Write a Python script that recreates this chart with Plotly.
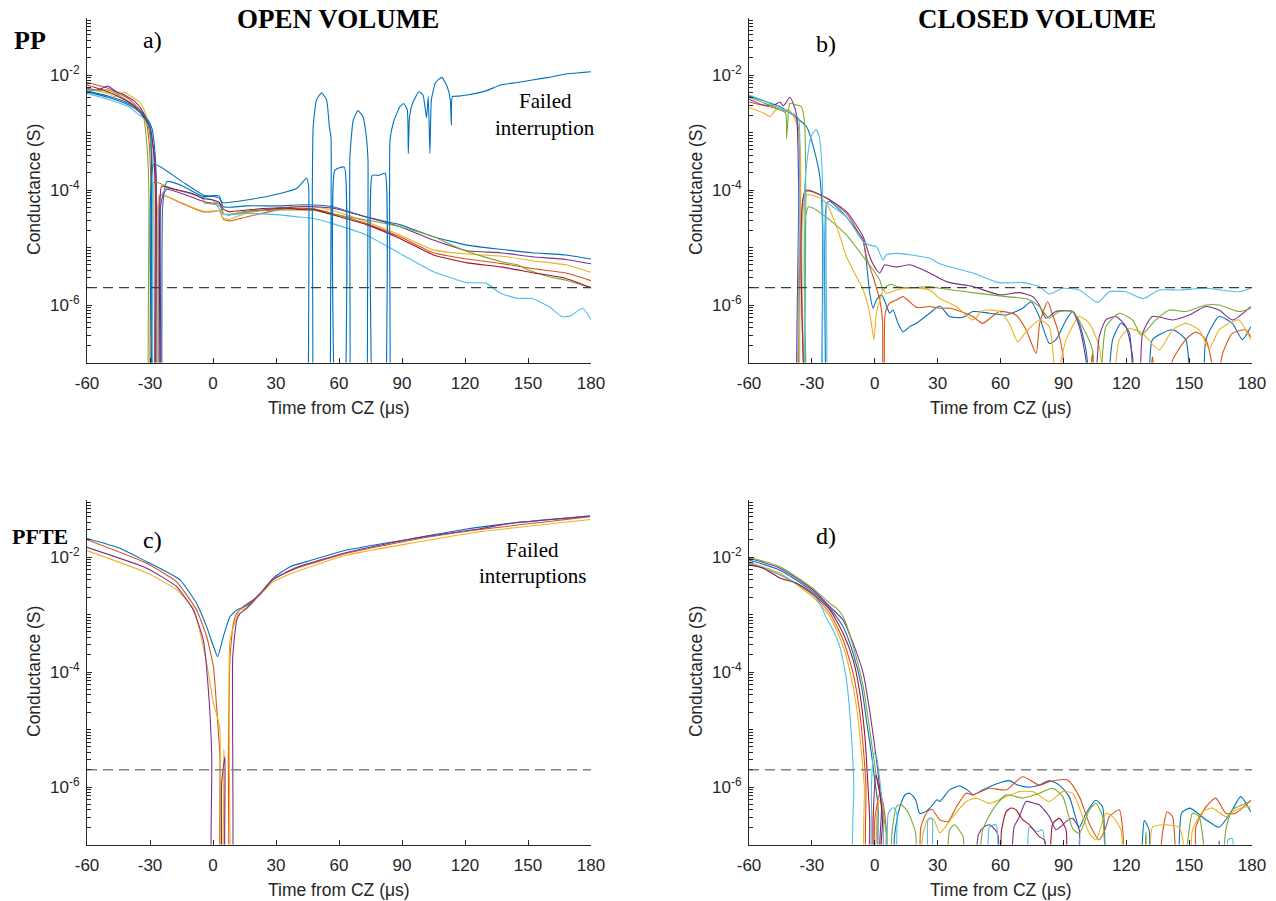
import plotly.graph_objects as go

# ---------------- colours (MATLAB default order) ----------------
BLUE, ORANGE, YELLOW, PURPLE = "#0072BD", "#D95319", "#EDB120", "#7E2F8E"
GREEN, LIGHTBLUE, DARKRED = "#77AC30", "#4DBEEE", "#A2142F"

# ---------------- axis ticks / reference level ----------------
X_TICKS = [-60, -30, 0, 30, 60, 90, 120, 150, 180]
Y_LABELED = [1e-6, 1e-4, 1e-2]
Y_LABEL_TEXT = ["10<sup>-6</sup>", "10<sup>-4</sup>", "10<sup>-2</sup>"]
DASH_LEVEL = 2e-6

# ---------------- panel a) PP open volume ----------------
A_BLUE = [(-60,5.3e-3),(-50,4.3e-3),(-40,3.2e-3),(-35,2.5e-3),(-32,1.9e-3),(-30,1.44e-3),(-29,1.15e-3),(-28,6.5e-4),(-27,1.5e-4),(-26.3,1e-9),(-25.3,1e-9),(-24,5e-5),(-22,1.4e-4),(-15,1.2e-4),(-5,7.7e-5),(-2,7.7e-5),(0,7.7e-5),(3,7.2e-5),(5,5.1e-5),(8,5.0e-5),(16,5.3e-5),(32,5.3e-5),(41,5.5e-5),(48,5.5e-5),(57,5.1e-5),(73,3.4e-5),(89,2.5e-5),(105,1.54e-5),(121,1.1e-5),(137,9.3e-6),(152,8.1e-6),(168,7.4e-6),(180,6.3e-6)]
A_ORANGE = [(-60,7.4e-3),(-50,5.9e-3),(-45,4.8e-3),(-40,3.8e-3),(-35,2.5e-3),(-32,1.65e-3),(-30.5,7.4e-4),(-29.5,1e-4),(-29,1e-9),(-27,1e-9),(-26,1e-5),(-25,8.2e-5),(-15,5.9e-5),(-5,4.2e-5),(0,4.2e-5),(3,4.4e-5),(5,3.1e-5),(8,2.9e-5),(16,3.4e-5),(32,4.6e-5),(41,4.8e-5),(48,4.7e-5),(57,3.9e-5),(73,2.6e-5),(89,1.54e-5),(105,8.1e-6),(121,6.3e-6),(137,5.3e-6),(152,4.3e-6),(168,3.6e-6),(180,2.65e-6)]
A_YELLOW = [(-60,5.6e-3),(-55,5.3e-3),(-50,4.8e-3),(-47,4.2e-3),(-42,5.0e-3),(-40,4.5e-3),(-35,3.4e-3),(-33,2.6e-3),(-31.5,1.8e-3),(-30,8e-4),(-29,1e-4),(-28.5,1e-9),(-27.5,1e-9),(-26.5,1e-5),(-25.5,8.2e-5),(-15,6.0e-5),(-5,4.3e-5),(0,4.3e-5),(3,4.4e-5),(5,3.2e-5),(8,3.1e-5),(16,4.0e-5),(32,4.8e-5),(41,5.3e-5),(48,5.1e-5),(57,4.4e-5),(73,2.8e-5),(89,1.65e-5),(105,9.1e-6),(121,7.7e-6),(137,7.1e-6),(152,5.9e-6),(168,5.0e-6),(180,3.7e-6)]
A_PURPLE = [(-60,5.9e-3),(-55,5.5e-3),(-50,6.4e-3),(-46,5.1e-3),(-42,4.5e-3),(-37,3.4e-3),(-34,2.5e-3),(-31,1.44e-3),(-28,4.3e-4),(-27,1e-4),(-26.5,1e-9),(-25.5,1e-9),(-25,5e-5),(-24,7.7e-5),(-22,1.03e-4),(-10,7.5e-5),(-4.6,6.3e-5),(0,5.9e-5),(3,5.9e-5),(5,3.8e-5),(8,3.7e-5),(16,4.2e-5),(32,4.8e-5),(41,5.1e-5),(48,5.1e-5),(57,4.8e-5),(73,3.4e-5),(89,2.3e-5),(105,1.35e-5),(121,8.8e-6),(137,8.1e-6),(152,6.9e-6),(168,6.2e-6),(180,5.2e-6)]
A_GREEN = [(-60,5.5e-3),(-55,5.4e-3),(-50,5.5e-3),(-45,4.5e-3),(-40,3.4e-3),(-36,2.6e-3),(-33,1.8e-3),(-32,1.0e-3),(-31,3.3e-4),(-30.5,7.7e-5),(-30.3,1e-9),(-29.5,1e-9),(-29,1e-5),(-28.6,1.34e-4),(-26,1.34e-4),(-20,1.07e-4),(-10,8.7e-5),(-5,7.2e-5),(-4,5.9e-5),(0,5.7e-5),(4,5.1e-5),(5,3.8e-5),(8,3.8e-5),(16,4.2e-5),(32,4.5e-5),(41,4.5e-5),(48,4.4e-5),(57,3.8e-5),(73,3.0e-5),(89,2.3e-5),(105,1.54e-5),(121,8.5e-6),(137,5.7e-6),(145,5.0e-6),(150,4.1e-6),(160,3.1e-6),(168,2.7e-6),(180,2.0e-6)]
A_LIGHTBLUE = [(-60,4.8e-3),(-50,3.8e-3),(-40,2.8e-3),(-35,2.0e-3),(-32,1.7e-3),(-31,1.54e-3),(-29.5,8.5e-4),(-28.5,1e-4),(-28,1e-9),(-27,1e-9),(-26,3e-5),(-25,7.7e-5),(-22,1.07e-4),(-5,7.5e-5),(0,6.7e-5),(5,3.8e-5),(16,3.9e-5),(32,3.7e-5),(41,3.4e-5),(48,3.2e-5),(57,2.6e-5),(73,1.65e-5),(89,7.9e-6),(105,3.8e-6),(121,2.45e-6),(130,2.4e-6),(137,1.6e-6),(145,1.3e-6),(152,1.3e-6),(160,9.4e-7),(166,6.3e-7),(170,6.4e-7),(176,8.8e-7),(180,5.6e-7)]
A_DARKRED = [(-60,6.7e-3),(-50,5.1e-3),(-45,4.2e-3),(-40,3.4e-3),(-35,2.3e-3),(-32,1.65e-3),(-30,1.26e-3),(-28.5,5.7e-4),(-27.5,1e-4),(-27,1e-9),(-26,1e-9),(-25.5,1e-5),(-24.5,1.17e-4),(-20,1.07e-4),(-10,8.7e-5),(-5,7.2e-5),(0,6.7e-5),(3,6.1e-5),(5,4.6e-5),(8,4.2e-5),(16,4.5e-5),(32,4.9e-5),(41,4.6e-5),(48,4.6e-5),(57,3.7e-5),(73,2.5e-5),(89,1.44e-5),(105,7.4e-6),(121,5.4e-6),(137,4.6e-6),(152,3.65e-6),(168,2.9e-6),(180,2.0e-6)]
A_FAILED = [(-60,5.1e-3),(-50,4.1e-3),(-40,3.0e-3),(-35,2.3e-3),(-32,1.8e-3),(-30,1.26e-3),(-29.3,4e-4),(-28.9,1e-9),(-28.5,1e-9),(-28.1,2.8e-4),(-16,1.5e-4),(-4.6,8.1e-5),(-2,7.9e-5),(3,7.9e-5),(4,6.3e-5),(5,6.0e-5),(16,6.7e-5),(32,8.7e-5),(40,1.07e-4),(44.5,1.6e-4),(45.5,1.2e-4),(46,1e-9),(46.8,1e-9),(47.3,1e-4),(47.7,1.26e-3),(49.3,3.7e-3),(51.7,4.9e-3),(54.1,3.7e-3),(55.4,1.26e-3),(56.2,8e-4),(56.6,1e-9),(57.5,1e-9),(58,2.2e-4),(62.5,2.5e-4),(63.5,1e-9),(64.5,1e-9),(65.2,3.8e-4),(66.8,1.65e-3),(69,2.4e-3),(71.4,1.9e-3),(73,8.5e-4),(73.8,3.3e-4),(74.3,1e-9),(75.3,1e-9),(75.8,1.8e-4),(79,1.8e-4),(82,1.95e-4),(82.8,1e-9),(83.7,1e-9),(84.3,7.4e-4),(86,1.54e-3),(89,2.8e-3),(90.7,3.2e-3),(92.5,2.5e-3),(93,4.3e-4),(93.6,1.9e-3),(95,3.2e-3),(98,5.1e-3),(100,4.5e-3),(101.7,1.8e-3),(102.5,4.2e-3),(103.3,4.3e-4),(104,3.7e-3),(106,7.4e-3),(109,9.1e-3),(111.5,6.3e-3),(113,3.7e-3),(113.5,1.35e-3),(114,4.2e-3),(117,4.3e-3),(121,4.5e-3),(130,5.3e-3),(137,6.7e-3),(145,7.4e-3),(152,8.2e-3),(160,9.1e-3),(168,1.04e-2),(175,1.1e-2),(180,1.14e-2)]

# ---------------- panel b) PP closed volume ----------------
B_BLUE = [(-60,4.3e-3),(-45.2,2.8e-3),(-37.3,1.8e-3),(-32.5,1.26e-3),(-29.3,5.7e-4),(-26.2,1.7e-4),(-24.9,2.3e-5),(-24.5,1e-9),(-23.8,1e-9),(-23,5.9e-5),(-21.4,6.3e-5),(-13.5,3.4e-5),(-8.7,2.0e-5),(-5.5,1.35e-5),(-2.4,1.6e-6),(-0.8,8.8e-7),(0.8,1.22e-6),(3.2,1.5e-6),(5.5,1.0e-6),(7.1,7.2e-7),(8.7,8.2e-7),(11.1,4.8e-7),(13.5,3.4e-7),(16.7,4.2e-7),(19.9,4.8e-7),(26.2,7.2e-7),(31,9.6e-7),(35.7,6.3e-7),(42.1,6.1e-7),(46.8,7.7e-7),(54.7,7.2e-7),(62.7,6.7e-7),(70.6,8.8e-7),(74.6,1.14e-6),(78.5,6.3e-7),(83.3,2.15e-7),(86.5,2.5e-7),(91.3,5.5e-7),(94.4,7.7e-7),(97.6,4.8e-7),(100.8,1.65e-7),(104,3e-8),(110,3e-8),(113.5,2.5e-7),(117.5,4.8e-7),(121.4,3.4e-7),(124.6,3e-8),(130,3e-8),(132.5,2.5e-7),(142.1,3.7e-7),(148.4,2.5e-7),(151.6,3e-8),(156,3e-8),(158,2.5e-7),(164.3,6.3e-7),(170.6,4.8e-7),(175.4,2.5e-7),(179.4,4.2e-7)]
B_ORANGE = [(-60,3.4e-3),(-45.2,2.5e-3),(-38,2.0e-3),(-36.5,1.26e-3),(-35.5,1e-4),(-35.2,1e-9),(-33.5,1e-9),(-33,9.4e-5),(-21.4,6.7e-5),(-13.5,3.9e-5),(-5.5,1.26e-5),(-4,6.9e-6),(-0.8,3.1e-6),(2.4,1.22e-6),(3.7,5.5e-7),(4.0,1e-9),(4.5,1e-9),(5.0,7.2e-7),(7.1,1.07e-6),(10.3,1.22e-6),(13.5,1.4e-6),(19.9,9.1e-7),(26.2,9.4e-7),(31,8.8e-7),(35.7,8.8e-7),(39,8.2e-7),(46.8,6.3e-7),(51.5,4.8e-7),(59.5,7.7e-7),(67.4,6.7e-7),(72.2,3.7e-7),(77,1.44e-7),(78.7,4.8e-7),(82.5,1.14e-6),(84.9,6.7e-7),(87.3,3.7e-7),(89.7,1.44e-7),(91.5,3e-8),(101,3e-8),(103.9,1.44e-7),(106,3e-8),(130,3e-8),(132.5,1.26e-7),(135,3e-8),(139,3e-8),(142.1,1.1e-7),(148.4,2.5e-7),(153.2,3.4e-7),(158,2.5e-7),(161,9e-8),(162.7,3e-8),(166,1.44e-7),(170.6,3.2e-7),(177,3.7e-7),(179.4,2.8e-7)]
B_YELLOW = [(-60,2.7e-3),(-53.2,2.2e-3),(-50,1.9e-3),(-47,2.5e-3),(-40.5,2.4e-3),(-37.3,1.44e-3),(-35.5,5e-4),(-34.8,1e-9),(-33.5,1e-9),(-32.8,8.2e-5),(-24.6,6.7e-5),(-21.4,4.5e-5),(-16.7,1.6e-5),(-13.5,6.9e-6),(-8.7,3.1e-6),(-5.5,1.82e-6),(-2.4,7.2e-7),(-0.4,2.5e-7),(0.8,7.2e-7),(2.4,1.22e-6),(4.0,1.82e-6),(5.5,1.6e-6),(10.3,1.82e-6),(18.3,2.0e-6),(26.2,1.82e-6),(31,1.3e-6),(38.9,9.4e-7),(46.8,5.5e-7),(51.5,8.0e-7),(59.5,7.7e-7),(64.2,4.8e-7),(68.2,2.3e-7),(72.2,3.4e-7),(78.5,5.5e-7),(83.3,4.2e-7),(86.5,5e-8),(91.3,2.5e-7),(97.6,6.3e-7),(102.4,4.8e-7),(107.1,1.9e-7),(110.3,3e-8),(113,3e-8),(116.7,2.5e-7),(121.4,3.9e-7),(127.8,3.2e-7),(135.7,1.65e-7),(142.1,3.7e-7),(148.4,4.8e-7),(154.8,3.7e-7),(159.5,1.76e-7),(164.3,3.7e-7),(170.6,5.1e-7),(173.8,5.5e-7),(179.4,2.5e-7)]
B_PURPLE = [(-60,3.8e-3),(-53.2,3.0e-3),(-48,3.0e-3),(-45.2,3.4e-3),(-43.6,2.9e-3),(-40.5,4.1e-3),(-38.9,3.2e-3),(-37.3,2.0e-3),(-36.3,1e-4),(-36,1e-9),(-33.8,1e-9),(-33,9.8e-5),(-21.4,6.7e-5),(-13.5,4.2e-5),(-5.5,1.54e-5),(-2.4,6.9e-6),(0.8,4.1e-6),(2.4,3.6e-6),(4.8,5.0e-6),(7.1,4.8e-6),(10.3,4.6e-6),(16.7,5.0e-6),(19.9,4.6e-6),(26.2,3.6e-6),(31,2.9e-6),(35.7,2.45e-6),(46.8,2.1e-6),(59.5,1.5e-6),(69,1.64e-6),(75.4,1.4e-6),(78.5,1.0e-6),(81.7,5.9e-7),(86.5,7.7e-7),(94.4,7.7e-7),(97.6,4.2e-7),(100.8,1.1e-7),(102.5,3e-8),(104.5,3e-8),(107.1,2.8e-7),(110.3,5.5e-7),(115.1,6.3e-7),(119.8,4.2e-7),(123,1.3e-7),(124.6,3e-8),(126,3e-8),(127.8,3.2e-7),(132.5,6.3e-7),(142.1,5.5e-7),(150,6.7e-7),(158,9.4e-7),(164.3,8.2e-7),(170.6,5.5e-7),(179.4,9.4e-7)]
B_GREEN = [(-60,4.1e-3),(-53.2,3.3e-3),(-45.2,2.5e-3),(-42.5,2.15e-3),(-42.1,7.9e-4),(-41.5,1.5e-3),(-40.5,3.2e-3),(-37.3,3.0e-3),(-35,2.8e-3),(-33.5,1.5e-3),(-32.9,1e-4),(-32.6,1e-9),(-32.0,1e-9),(-31.6,5.1e-5),(-21.4,3.0e-5),(-13.5,1.65e-5),(-5.5,6.9e-6),(-0.8,4.1e-6),(2.4,2.7e-6),(4.0,1.82e-6),(5.5,2.1e-6),(8.0,2.3e-6),(10.3,2.1e-6),(18.3,2.0e-6),(26.2,2.1e-6),(31,1.95e-6),(46.8,1.64e-6),(62.7,1.4e-6),(73,1.26e-6),(78.5,9.4e-7),(83.3,5.9e-7),(88.1,7.7e-7),(94.4,7.7e-7),(100.8,3.2e-7),(103.9,1.65e-7),(105.5,3e-8),(107,3e-8),(110.3,4.2e-7),(116.7,7.2e-7),(123,5.5e-7),(127,3.0e-7),(134.1,5.5e-7),(140.5,8.2e-7),(148.4,7.7e-7),(158,1.0e-6),(164.3,1.0e-6),(173.8,7.7e-7),(179.4,8.8e-7)]
B_LIGHTBLUE = [(-60,4.5e-3),(-53.2,3.6e-3),(-45.2,2.6e-3),(-40,2.2e-3),(-36.5,1.8e-3),(-36,1e-4),(-35.7,1e-9),(-34.5,1e-9),(-33.5,1e-4),(-32,4e-4),(-30.4,8.5e-4),(-28,1.13e-3),(-26.5,8.5e-4),(-25.2,2.5e-4),(-24.6,1e-5),(-24.3,1e-9),(-23.5,1e-9),(-23.2,1e-5),(-22.8,5.9e-5),(-21.4,5.5e-5),(-13.5,3.4e-5),(-5.5,1.26e-5),(-2.4,1.1e-5),(0.8,1.03e-5),(4.0,6.0e-6),(5.5,7.4e-6),(10.3,7.9e-6),(26.2,6.5e-6),(31,5.2e-6),(46.8,3.6e-6),(59.5,2.45e-6),(70.6,2.45e-6),(78.5,2.1e-6),(83.3,1.55e-6),(89.7,1.95e-6),(97.6,1.82e-6),(106.3,1.11e-6),(111.9,1.7e-6),(119.8,1.7e-6),(128.1,1.29e-6),(135.7,1.82e-6),(145.2,1.82e-6),(158,1.95e-6),(173.8,1.7e-6),(179.4,1.95e-6)]

# ---------------- panel c) PFTE open volume ----------------
C_BLUE = [(-60,2.1e-2),(-44.3,1.42e-2),(-31.6,8.3e-3),(-23.6,5.9e-3),(-15.7,4.0e-3),(-7.8,1.56e-3),(-3.0,6.1e-4),(0.2,2.8e-4),(2.2,1.85e-4),(4.9,4.1e-4),(8.1,9.2e-4),(11.3,1.2e-3),(16.0,1.42e-3),(22.4,2.3e-3),(28.7,4.3e-3),(36.7,6.8e-3),(44.6,8.3e-3),(63.7,1.32e-2),(79.5,1.68e-2),(95.4,2.1e-2),(119.2,3.0e-2),(143.0,3.9e-2),(179.5,5.2e-2)]
C_ORANGE = [(-60,2.0e-2),(-31.6,7.8e-3),(-17.3,3.7e-3),(-7.8,1.2e-3),(-3.0,4.1e-4),(0.2,1.24e-4),(1.7,2.5e-5),(3.3,3.4e-6),(4.1,1e-9),(6.5,1e-9),(7.3,3.4e-6),(8.1,1.85e-4),(9.7,7.0e-4),(11.3,1.05e-3),(14.4,1.37e-3),(22.4,2.2e-3),(28.7,4.1e-3),(39.8,6.4e-3),(63.7,1.16e-2),(95.4,2.0e-2),(127.1,3.0e-2),(179.5,5.0e-2)]
C_YELLOW = [(-60,1.29e-2),(-31.6,5.3e-3),(-17.3,2.7e-3),(-9.4,1.28e-3),(-3.0,1.42e-4),(0.2,2.85e-5),(2.2,1.6e-5),(3.3,9.8e-6),(4.1,1e-9),(4.9,1e-9),(5.2,4.4e-6),(5.7,1e-9),(7.5,1e-9),(8.1,3.6e-4),(12.9,1.2e-3),(16.0,1.28e-3),(28.7,3.7e-3),(39.8,5.6e-3),(63.7,1.08e-2),(95.4,1.77e-2),(127.1,2.75e-2),(179.5,4.5e-2)]
C_PURPLE = [(-60,1.47e-2),(-31.6,6.4e-3),(-17.3,3.05e-3),(-9.4,1.2e-3),(-4.6,3.6e-4),(-2.2,4.9e-5),(-0.6,3.4e-6),(-0.1,1e-9),(3.0,1e-9),(4.1,1.16e-6),(5.7,3.4e-6),(6.3,1e-9),(8.4,1e-9),(9.4,1.85e-4),(11.3,8.0e-4),(12.9,1.05e-3),(16.0,1.28e-3),(22.4,2.3e-3),(28.7,4.1e-3),(39.8,6.6e-3),(63.7,1.2e-2),(95.4,2.1e-2),(127.1,3.1e-2),(143,3.9e-2),(179.5,5.1e-2)]

# ---------------- panel d) PFTE closed volume ----------------
D_BLUE = [(-60,8.9e-3),(-45.2,5.9e-3),(-29.5,2.5e-3),(-21.4,1.28e-3),(-15.1,6.1e-4),(-10.3,2.1e-4),(-6.3,5.6e-5),(-4.0,1.46e-5),(-1.6,3.85e-6),(0.0,1.32e-6),(1.6,4.5e-7),(2.4,3e-8),(8,3e-8),(9.5,1.5e-7),(12,4.5e-7),(14.6,7.4e-7),(16.7,7.8e-7),(19.5,6.0e-7),(21.4,3.5e-7),(23.4,3.6e-7),(26.3,4.3e-7),(29.8,6.0e-7),(31,5.6e-7),(35.7,8.9e-7),(40.5,1.04e-6),(45.2,8.3e-7),(46.8,7.3e-7),(51.5,8.9e-7),(57.9,1.13e-6),(64.3,1.29e-6),(68.2,1.08e-6),(73.8,9.9e-7),(78.5,1.08e-6),(83.3,1.29e-6),(88.1,1.08e-6),(92.8,6.8e-7),(97.6,2.0e-7),(100.8,3.5e-7),(105.5,5.9e-7),(108.7,4.5e-7),(111.9,3e-8),(125.4,3e-8),(128.6,2.6e-7),(130.9,1.8e-7),(132.5,3e-8),(143.5,3e-8),(146.4,3.5e-7),(150.4,4.3e-7),(158,2.7e-7),(164.3,2.0e-7),(170.6,4.0e-7),(174.6,6.8e-7),(179.4,3.7e-7)]
D_ORANGE = [(-60,7.8e-3),(-45.2,4.9e-3),(-29.5,2.2e-3),(-21.4,1.05e-3),(-15.1,3.6e-4),(-10.3,9.5e-5),(-7.1,1.9e-5),(-5.5,5.0e-6),(-4.2,1.01e-6),(-3.6,3e-8),(-0.5,3e-8),(0.0,2.7e-7),(2.4,7.8e-7),(4.0,5.2e-7),(5.5,1.8e-7),(6.5,3e-8),(20,3e-8),(22,2.0e-7),(25,3.7e-7),(27.3,4.1e-7),(31,2.7e-7),(35,2.5e-7),(38.9,4.5e-7),(43.6,7.8e-7),(46.8,7.3e-7),(54.7,9.5e-7),(62.7,8.9e-7),(70.6,1.51e-6),(78.5,1.08e-6),(83.3,1.24e-6),(92,1.32e-6),(97.6,6.8e-7),(102.4,2.3e-7),(107.1,1.2e-7),(110.3,2.0e-7),(111.9,3.05e-7),(116.7,4.0e-7),(118.5,1.5e-7),(119.8,3e-8),(134,3e-8),(137.3,1.6e-7),(139.5,3.7e-7),(142.1,3.05e-7),(145.2,3e-8),(152.5,3e-8),(153.2,2.0e-7),(158,4.5e-7),(162.7,6.4e-7),(167.5,3.5e-7),(172.2,3.5e-7),(179.4,5.9e-7)]
D_YELLOW = [(-60,8.0e-3),(-45.2,5.2e-3),(-29.5,2.0e-3),(-21.4,9.2e-4),(-15.1,2.8e-4),(-12,1.08e-4),(-8.7,2.5e-5),(-6.3,3.85e-6),(-5.0,1.01e-6),(-4.3,3e-8),(0.5,3e-8),(0.8,2.7e-7),(2.4,5.9e-7),(4.0,4.5e-7),(5.5,3e-8),(20,3e-8),(23,1.5e-7),(25.3,2.75e-7),(28,2.75e-7),(31,1.6e-7),(37.3,3.05e-7),(43.6,5.6e-7),(48.4,6.4e-7),(54.7,5.2e-7),(62.7,6.8e-7),(69,8.3e-7),(75.4,8.3e-7),(83.3,5.6e-7),(89.7,8.3e-7),(94.4,7.8e-7),(99.2,3.05e-7),(102.4,1.56e-7),(105.5,1.2e-7),(110.3,3.5e-7),(113.5,3.05e-7),(117.5,1.8e-7),(119.8,3e-8),(130,3e-8),(132.5,2.0e-7),(138.9,2.2e-7),(145.2,2.0e-7),(147,1.2e-7),(148.4,3e-8),(150,3e-8),(151.6,1.8e-7),(156.4,3.7e-7),(161.1,4.3e-7),(167.5,3.05e-7),(172.2,4.0e-7),(177,4.5e-7),(179.4,4.5e-7)]
D_PURPLE = [(-60,9.5e-3),(-45.2,6.4e-3),(-29.5,2.7e-3),(-21.4,1.37e-3),(-15.1,8.0e-4),(-10.3,3.15e-4),(-5.5,9.5e-5),(-2.4,2.1e-5),(0.0,5.0e-6),(1.6,1.73e-6),(3.2,4.5e-7),(4.0,3e-8),(46,3e-8),(49.5,1.5e-7),(52,2.0e-7),(54.7,2.2e-7),(58.6,1.56e-7),(60.3,3e-8),(64,3e-8),(66.5,2.0e-7),(69,3.05e-7),(72.2,5.6e-7),(76,5.2e-7),(78.5,4.9e-7),(83.3,3.05e-7),(86.5,1.8e-7),(89.7,2.2e-7),(91.3,2.5e-7),(94.4,2.85e-7),(97.6,1.8e-7),(99.2,3e-8),(163.5,3e-8),(164.3,1.15e-7),(166,3e-8),(180,3e-8)]
D_GREEN = [(-60,9.9e-3),(-45.2,6.8e-3),(-29.5,2.85e-3),(-21.4,1.56e-3),(-18.2,1.28e-3),(-15.1,9.2e-4),(-10.3,2.8e-4),(-5.5,5.6e-5),(-2.4,9.8e-6),(-0.8,3.85e-6),(0.8,1.51e-6),(2.4,7.8e-7),(4.0,3.5e-7),(5.5,1.6e-7),(6.8,3e-8),(8.5,2e-7),(10.5,4.7e-7),(12.5,4.9e-7),(15.6,3.8e-7),(19.5,1.6e-7),(21,3e-8),(33,3e-8),(35.7,1.8e-7),(38,2.2e-7),(42.1,1.37e-7),(43.6,3e-8),(48.4,3e-8),(51.5,1.8e-7),(56.3,4.0e-7),(62.7,7.3e-7),(70.6,6.4e-7),(78.5,7.8e-7),(84.9,9.5e-7),(89.7,6.8e-7),(94.4,1.9e-7),(97.6,1.56e-7),(102.4,4.0e-7),(105.5,5.2e-7),(108.7,3.05e-7),(111.9,3e-8),(127.5,3e-8),(129.4,1.67e-7),(131,3e-8),(146,3e-8),(151.6,3.5e-7),(154.8,3.05e-7),(159.5,3e-8),(165,3e-8),(167.5,1.8e-7),(170.6,4.0e-7),(175.4,4.9e-7),(179.4,5.6e-7)]
D_LIGHTBLUE = [(-60,8.3e-3),(-45.2,4.9e-3),(-31,2.5e-3),(-26.2,1.56e-3),(-23,8.6e-4),(-19.9,5.4e-4),(-16.7,2.8e-4),(-13.5,7.3e-5),(-11.1,7.5e-6),(-10.0,1.01e-6),(-9.6,3e-8),(-2.8,3e-8),(-1.6,1.01e-6),(-0.5,3.85e-6),(0.8,3.4e-6),(2.4,1.32e-6),(4.0,3.5e-7),(4.8,3e-8),(5.5,3e-8),(6.5,3.5e-7),(8.8,4.4e-7),(10.5,3.5e-7),(11.5,3e-8),(24,3e-8),(25.5,2.75e-7),(27.3,2.9e-7),(29,3e-8),(52.5,3e-8),(54.7,2.0e-7),(57.9,2.2e-7),(60.3,3e-8),(71.5,3e-8),(73.8,2.0e-7),(77.4,1.67e-7),(80,1.8e-7),(83.3,3e-8),(96.5,3e-8),(97.6,1.28e-7),(99,3e-8),(167,3e-8),(168.5,1.2e-7),(170.6,1.28e-7),(172.2,3e-8),(180,3e-8)]
D_DARKRED = [(-60,7.3e-3),(-53.2,6.4e-3),(-45.2,4.3e-3),(-37.3,3.5e-3),(-29.5,2.3e-3),(-21.4,1.2e-3),(-15.1,4.7e-4),(-10.3,1.62e-4),(-7.1,4.3e-5),(-4.7,7.5e-6),(-3.2,1.01e-6),(-2.4,2.7e-7),(-2.0,3e-8),(-1.2,3e-8),(-0.8,2.7e-7),(0.5,1.62e-6),(2.4,7.8e-7),(3.7,2.7e-7),(4.3,3e-8),(58,3e-8),(60.5,1.8e-7),(62.7,3.7e-7),(65,4.3e-7),(67.4,4.0e-7),(70.6,2.7e-7),(73.8,2.2e-7),(78.5,1.37e-7),(81,1.2e-7),(83.3,3e-8),(84.9,2.3e-7),(88.1,2.85e-7),(91.3,1.8e-7),(93.6,3e-8),(180,3e-8)]

PANELS = {
    1: [(A_BLUE, BLUE), (A_ORANGE, ORANGE), (A_YELLOW, YELLOW), (A_PURPLE, PURPLE),
        (A_GREEN, GREEN), (A_LIGHTBLUE, LIGHTBLUE), (A_DARKRED, DARKRED), (A_FAILED, BLUE)],
    2: [(B_BLUE, BLUE), (B_ORANGE, ORANGE), (B_YELLOW, YELLOW), (B_PURPLE, PURPLE),
        (B_GREEN, GREEN), (B_LIGHTBLUE, LIGHTBLUE)],
    3: [(C_BLUE, BLUE), (C_ORANGE, ORANGE), (C_YELLOW, YELLOW), (C_PURPLE, PURPLE)],
    4: [(D_BLUE, BLUE), (D_ORANGE, ORANGE), (D_YELLOW, YELLOW), (D_PURPLE, PURPLE),
        (D_GREEN, GREEN), (D_LIGHTBLUE, LIGHTBLUE), (D_DARKRED, DARKRED)],
}

# ---------------- geometry (page pixels; body margin removed below) ----------------
W, H = 1276, 901
X_LEFT = (87, 591)
X_RIGHT = (749, 1252)
Y_TOP = (17.5, 362.5)
Y_BOT = (499.5, 844.5)


def fx(px):
    return px / W


def fy(py):
    return 1 - py / H


def xd(p):
    return [fx(p[0]), fx(p[1])]


def yd(p):
    return [fy(p[1]), fy(p[0])]


fig = go.Figure()
for idx, traces in PANELS.items():
    sfx = "" if idx == 1 else str(idx)
    smooth = 0.6 if idx in (2, 4) else 0.45
    for pairs, col in traces:
        fig.add_trace(go.Scatter(
            x=[p[0] for p in pairs], y=[p[1] for p in pairs], mode="lines",
            line=dict(color=col, width=1.1, shape="spline", smoothing=smooth),
            xaxis="x" + sfx, yaxis="y" + sfx, showlegend=False, hoverinfo="skip"))
    dash_col = "#404040" if idx in (1, 2) else "#808080"
    dash_w = 1.2 if idx in (1, 2) else 1.6
    fig.add_trace(go.Scatter(
        x=[X_TICKS[0], X_TICKS[-1]], y=[DASH_LEVEL, DASH_LEVEL], mode="lines",
        line=dict(color=dash_col, width=dash_w, dash="10px,6px"),
        xaxis="x" + sfx, yaxis="y" + sfx, showlegend=False, hoverinfo="skip"))

# minor ticks at every k*10^n (MATLAB log axis), labelled majors at 1e-6,1e-4,1e-2
minor_vals = []
for e in range(-7, -1):
    for k in range(1, 10):
        v = k * 10.0 ** e
        if not any(abs(v - lv) / lv < 1e-9 for lv in Y_LABELED):
            minor_vals.append(v)
minor_vals.append(0.1)

AX_COL = "#262626"
TICK_FONT = dict(family="Liberation Sans, Arial, sans-serif", size=17, color=AX_COL)

layout_axes = {}
geo = {1: (X_LEFT, Y_TOP), 2: (X_RIGHT, Y_TOP), 3: (X_LEFT, Y_BOT), 4: (X_RIGHT, Y_BOT)}
for idx, (xp, yp) in geo.items():
    sfx = "" if idx == 1 else str(idx)
    layout_axes["xaxis" + sfx] = dict(
        domain=xd(xp), anchor="y" + sfx, range=[-60, 180], tickmode="array",
        tickvals=X_TICKS, ticktext=[str(v) for v in X_TICKS], ticks="inside",
        ticklen=5, tickwidth=1, tickcolor=AX_COL, showline=True, linecolor=AX_COL,
        linewidth=1, showgrid=False, zeroline=False, mirror=False, tickfont=TICK_FONT,
        ticklabelstandoff=5, automargin=False)
    layout_axes["yaxis" + sfx] = dict(
        domain=yd(yp), anchor="x" + sfx, type="log", range=[-7, -1], tickmode="array",
        tickvals=Y_LABELED, ticktext=Y_LABEL_TEXT, ticks="inside", ticklen=5,
        tickwidth=1, tickcolor=AX_COL, showline=True, linecolor=AX_COL, linewidth=1,
        showgrid=False, zeroline=False, mirror=False, tickfont=TICK_FONT,
        ticklabelstandoff=3, automargin=False,
        minor=dict(tickmode="array", tickvals=minor_vals, ticks="inside", ticklen=4,
                   tickwidth=1, tickcolor=AX_COL, showgrid=False))

SERIF = "Liberation Serif, Times New Roman, serif"
SANS = "Liberation Sans, Arial, sans-serif"


def ann(text, px, py, size, family, bold=False, angle=0, color="#000000"):
    t = f"<b>{text}</b>" if bold else text
    return dict(text=t, x=fx(px), y=fy(py), xref="paper", yref="paper",
                xanchor="center", yanchor="middle", showarrow=False, textangle=angle,
                font=dict(size=size, family=family, color=color))


annotations = [
    ann("OPEN VOLUME", 338, 19, 27, SERIF, bold=True),
    ann("CLOSED VOLUME", 1037, 19, 27, SERIF, bold=True),
    ann("PP", 30, 41, 26, SERIF, bold=True),
    ann("PFTE", 40, 536, 22, SERIF, bold=True),
    ann("a)", 152, 40, 24, SERIF),
    ann("b)", 826, 44, 24, SERIF),
    ann("c)", 152, 540, 24, SERIF),
    ann("d)", 826, 536, 24, SERIF),
    ann("Failed", 545, 101, 21, SERIF),
    ann("interruption", 545, 128, 21, SERIF),
    ann("Failed", 532, 550, 21, SERIF),
    ann("interruptions", 532, 576, 21, SERIF),
]
for (xp, yp) in geo.values():
    annotations.append(ann("Conductance (S)", xp[0] - 53, (yp[0] + yp[1]) / 2, 17.5, SANS,
                           angle=-90, color=AX_COL))
    annotations.append(ann("Time from CZ (μs)", (xp[0] + xp[1]) / 2, yp[1] + 45, 17.5, SANS,
                           color=AX_COL))

fig.update_layout(
    template="none",
    width=W, height=H, autosize=False,
    margin=dict(l=0, r=0, t=0, b=0, pad=0, autoexpand=False),
    paper_bgcolor="white", plot_bgcolor="white",
    annotations=annotations, showlegend=False,
    **layout_axes,
)

# remove the browser's default 8 px body margin so the figure fills the page exactly,
# and hide the interactive mode bar (it is not part of the static chart)
fig.write_html("out.html", config={"displayModeBar": False},
               post_script="document.body.style.margin='0px';")
